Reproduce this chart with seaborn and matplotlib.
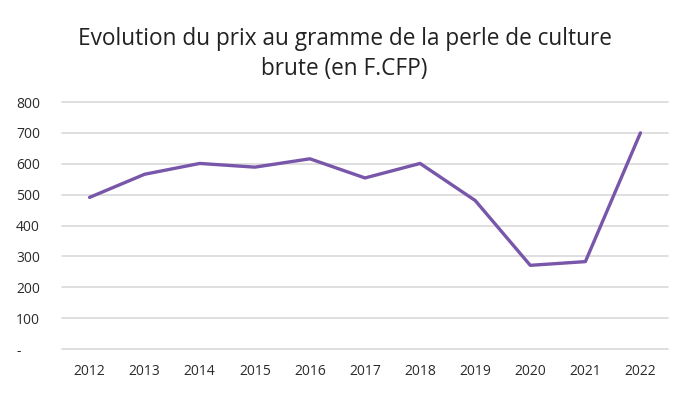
import seaborn as sns
import pandas as pd
import matplotlib.pyplot as plt

# données
annees = ['2012', '2013', '2014', '2015', '2016', '2017', '2018', '2019', '2020', '2021', '2022']
prix = [491, 566, 601, 589, 616, 554, 601, 481, 271, 283, 700]

df = pd.DataFrame({'annee': annees, 'prix': prix})

sns.set_theme(style='white')
plt.rcParams['font.family'] = ['Open Sans', 'DejaVu Sans']

fig = plt.figure(figsize=(6.89, 3.94), dpi=100)
ax = fig.add_axes([62 / 689, 1 - 349 / 394, 606 / 689, 247 / 394])

sns.lineplot(data=df, x='annee', y='prix', ax=ax, color='#7856AA', linewidth=2.4, sort=False)

ax.set_xlim(-0.5, len(annees) - 0.5)
ax.set_ylim(0, 800)
ax.set_yticks(range(0, 801, 100))
ax.set_yticklabels(['-'] + [str(v) for v in range(100, 801, 100)])
ax.yaxis.grid(True, color='#D9D9D9', linewidth=1.2)
for gl in ax.get_ygridlines():
    gl.set_clip_on(False)
ax.set_axisbelow(True)
for s in ax.spines.values():
    s.set_visible(False)
ax.tick_params(axis='both', length=0, labelsize=10, labelcolor='#2b2b2b')
ax.tick_params(axis='y', pad=33)
ax.tick_params(axis='x', pad=11)
for lab in ax.get_yticklabels():
    lab.set_horizontalalignment('left')
ax.set_xlabel('')
ax.set_ylabel('')

fig.text(0.5, 1 - 54 / 394, 'Evolution du prix au gramme de la perle de culture\nbrute (en F.CFP)',
         ha='center', va='center', fontsize=16.3, color='#222222', linespacing=1.33)

fig.savefig('out.png', dpi=100)
